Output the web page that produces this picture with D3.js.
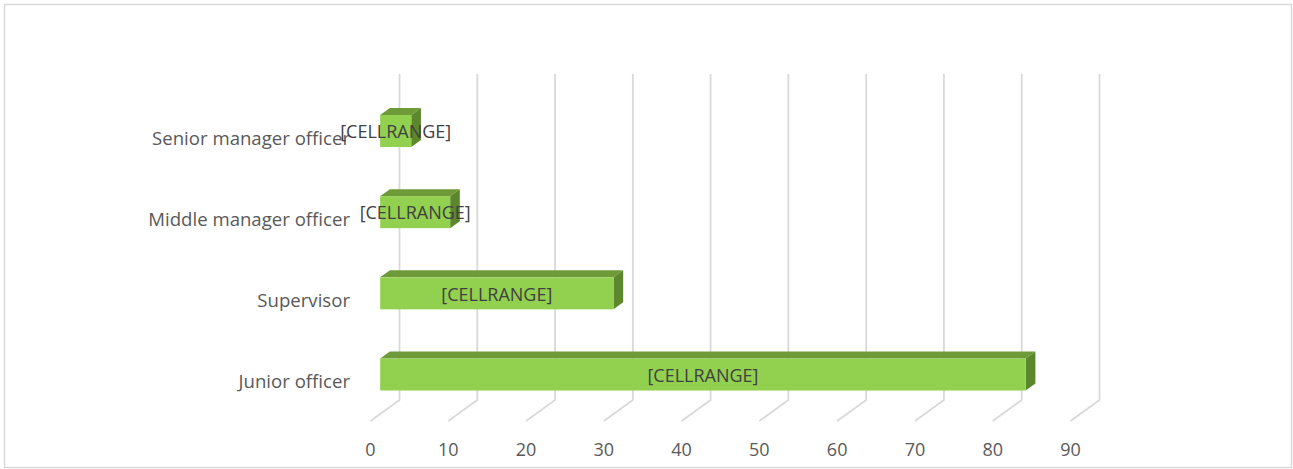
<!DOCTYPE html>
<html>
<head>
<meta charset="utf-8">
<script src="https://cdn.jsdelivr.net/npm/d3@7"></script>
<style>
  html, body { margin: 0; padding: 0; background: #fff; }
  svg { display: block; }
</style>
</head>
<body>
<svg id="chart" width="1293" height="469"></svg>
<script>
// Staff by position level
const categories = ["Senior manager officer", "Middle manager officer", "Supervisor", "Junior officer"];
const values = [4, 9, 30, 83];
const dataLabels = ["[CELLRANGE]", "[CELLRANGE]", "[CELLRANGE]", "[CELLRANGE]"];
const tickValues = [0, 10, 20, 30, 40, 50, 60, 70, 80, 90];

const svg = d3.select("#chart");
const W = 1293, H = 469;

// Oblique 3D projection: full depth runs from the front floor edge to the back wall
const depth = { dx: 29, dy: -21 };
const frontX0 = 370.5;      // x of value 0 on the front edge of the floor
const floorFrontY = 421;    // y of the front floor edge
const wallTop = 74;

const x = d3.scaleLinear().domain([0, 90]).range([0, 700]);
const y = d3.scalePoint().domain(categories).range([131, 374.5]);
const barH = 32;

// Bars sit between 1/3 and 2/3 of the depth
const barFrontOffset = { dx: depth.dx / 3, dy: depth.dy / 3 };
const barDepth = { dx: depth.dx / 3, dy: depth.dy / 3 };

const font = "Open Sans, sans-serif";

// Chart frame
svg.append("rect")
  .attr("x", 4.5).attr("y", 4.5)
  .attr("width", W - 6).attr("height", H - 6)
  .attr("fill", "#fff").attr("stroke", "#d9d9d9").attr("stroke-width", 1.5);

// Back wall gridlines + floor diagonals
const backX0 = frontX0 + depth.dx;
const backFloorY = floorFrontY + depth.dy;
svg.append("g").attr("class", "grid")
  .selectAll("path")
  .data(tickValues)
  .join("path")
  .attr("d", v => {
    const bx = backX0 + x(v);
    return `M${bx},${wallTop}L${bx},${backFloorY}L${bx - depth.dx},${floorFrontY}`;
  })
  .attr("fill", "none")
  .attr("stroke", "#d9d9d9")
  .attr("stroke-width", 1.8);

// Value axis labels along the front floor edge
svg.append("g").selectAll("text")
  .data(tickValues)
  .join("text")
  .attr("x", v => frontX0 + x(v))
  .attr("y", 455.5)
  .attr("text-anchor", "middle")
  .attr("font-family", font)
  .attr("font-size", 18)
  .attr("fill", "#595959")
  .text(v => v);

// Category labels
svg.append("g").selectAll("text")
  .data(categories)
  .join("text")
  .attr("x", 350)
  .attr("y", c => y(c) + 7)
  .attr("dy", "0.35em")
  .attr("text-anchor", "end")
  .attr("font-family", font)
  .attr("font-size", 18.6)
  .attr("fill", "#595959")
  .text(c => c);

// 3D bars
const rows = categories.map((c, i) => ({ c, v: values[i], label: dataLabels[i] }));
const fx0 = frontX0 + barFrontOffset.dx;

svg.append("g").attr("class", "bars")
  .selectAll("g")
  .data(rows)
  .join("g")
  .each(function(d) {
    const g = d3.select(this);
    const x0 = fx0, x1 = fx0 + x(d.v);
    const y0 = y(d.c) - barH / 2, y1 = y(d.c) + barH / 2;
    const ddx = barDepth.dx, ddy = barDepth.dy;
    // top face
    g.append("path")
      .attr("d", `M${x0},${y0}L${x0 + ddx},${y0 + ddy}L${x1 + ddx},${y0 + ddy}L${x1},${y0}Z`)
      .attr("fill", "#6f9a38");
    // side face
    g.append("path")
      .attr("d", `M${x1},${y0}L${x1 + ddx},${y0 + ddy}L${x1 + ddx},${y1 + ddy}L${x1},${y1}Z`)
      .attr("fill", "#5d872c");
    // front face
    g.append("rect")
      .attr("x", x0).attr("y", y0)
      .attr("width", x1 - x0).attr("height", barH)
      .attr("fill", "#92d050");
  });

// Data labels
svg.append("g").selectAll("text")
  .data(rows)
  .join("text")
  .attr("x", d => fx0 + x(d.v) / 2)
  .attr("y", d => y(d.c) + 1)
  .attr("dy", "0.35em")
  .attr("text-anchor", "middle")
  .attr("font-family", font)
  .attr("font-size", 18)
  .attr("fill", "#404040")
  .text(d => d.label);
</script>
</body>
</html>
